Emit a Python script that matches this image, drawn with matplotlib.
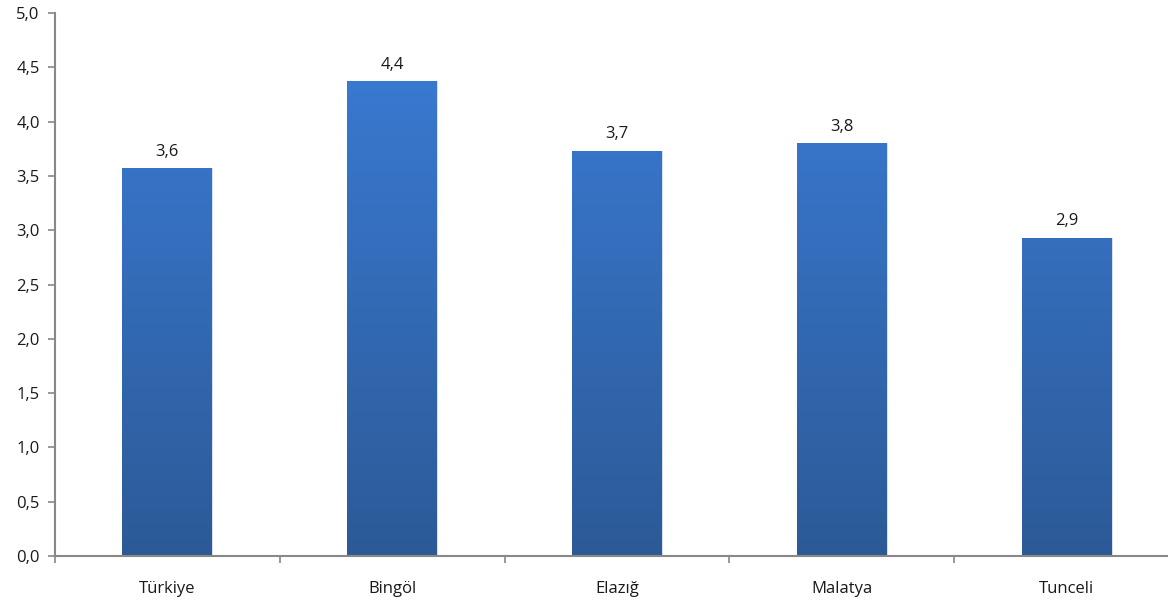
import numpy as np
import matplotlib.pyplot as plt
from matplotlib.colors import LinearSegmentedColormap

categories = ['Türkiye', 'Bingöl', 'Elazığ', 'Malatya', 'Tunceli']
values = [3.57, 4.37, 3.73, 3.80, 2.93]
labels = ['3,6', '4,4', '3,7', '3,8', '2,9']
yticks = [0.0, 0.5, 1.0, 1.5, 2.0, 2.5, 3.0, 3.5, 4.0, 4.5, 5.0]

plt.rcParams['font.family'] = ['Open Sans', 'DejaVu Sans']

fig = plt.figure(figsize=(11.68, 6.02), dpi=100)
ax = fig.add_axes([55 / 1168, 1 - 556 / 602, 1124 / 1168, (556 - 13) / 602])

x = np.arange(len(categories))
bars = ax.bar(x, values, width=0.4, color='none', edgecolor='none', zorder=2)

cmap = LinearSegmentedColormap.from_list('grad', ['#2c5a97', '#3b7dd8'])
grad = np.linspace(0, 1, 256).reshape(-1, 1)
for b in bars:
    x0 = b.get_x()
    w = b.get_width()
    im = ax.imshow(grad, cmap=cmap, aspect='auto', origin='lower',
                   extent=[x0, x0 + w, 0, 5.0], zorder=2)
    im.set_clip_path(b)
    b.set_edgecolor('#d0dbe8')
    b.set_linewidth(0.6)

for xi, v, lab in zip(x, values, labels):
    ax.text(xi, v + 0.08, lab, ha='center', va='bottom', fontsize=12,
            color='#1a1a1a')

ax.set_xlim(-0.5, len(categories) - 0.5)
ax.set_ylim(0, 5.0)
ax.set_yticks(yticks)
ax.set_yticklabels([f'{t:.1f}'.replace('.', ',') for t in yticks])
ax.set_xticks(x)
ax.set_xticklabels(categories)
ax.set_xticks(np.arange(len(categories) + 1) - 0.5, minor=True)

ax.tick_params(axis='x', which='major', length=0, pad=18, labelsize=12,
               labelcolor='#1a1a1a')
ax.tick_params(axis='x', which='minor', length=5, width=1.2, color='#888888',
               direction='out')
ax.tick_params(axis='y', length=5, width=1.2, color='#888888', pad=6,
               labelsize=12, labelcolor='#1a1a1a')

for s in ['top', 'right']:
    ax.spines[s].set_visible(False)
for s in ['left', 'bottom']:
    ax.spines[s].set_color('#888888')
    ax.spines[s].set_linewidth(1.5)

fig.savefig('out.png', dpi=100)
